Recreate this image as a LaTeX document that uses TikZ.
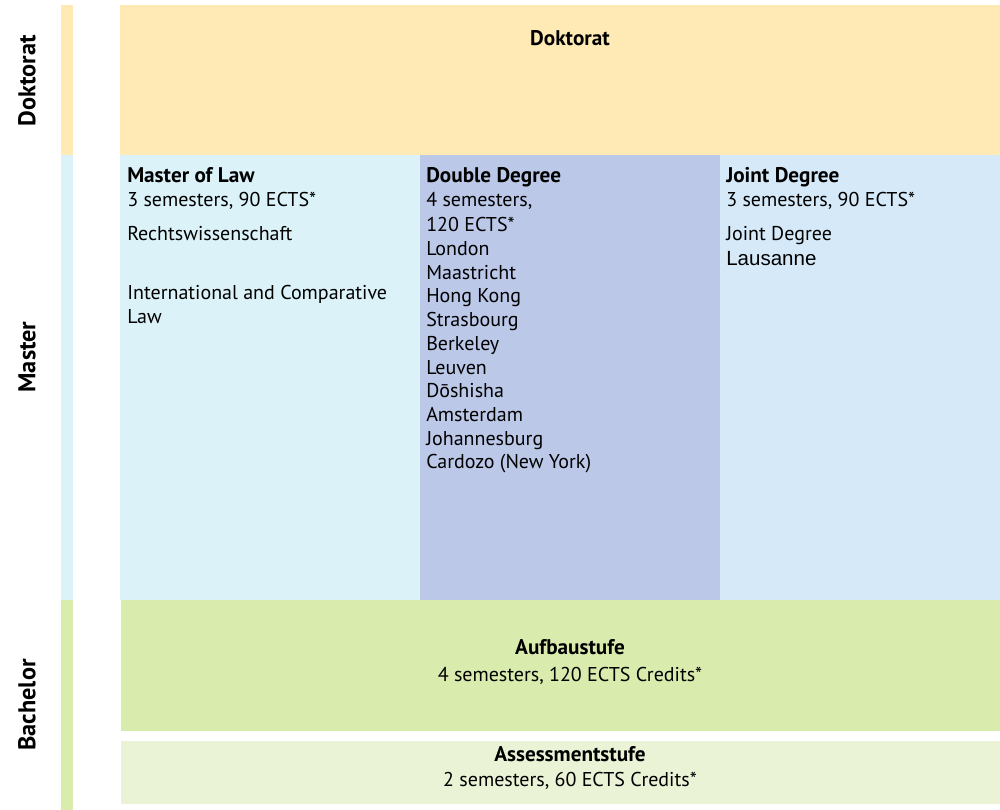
\documentclass[tikz,border=0pt]{standalone}
\usepackage{fontspec}
\setmainfont{PT Sans}
\newfontfamily\arialf{Liberation Sans}
\definecolor{doccol}{HTML}{FFE9B5}
\definecolor{mascol}{HTML}{DAF2F8}
\definecolor{ddcol}{HTML}{BBC8E8}
\definecolor{jdcol}{HTML}{D5E9F8}
\definecolor{aufcol}{HTML}{D9EBAD}
\definecolor{asscol}{HTML}{EBF3D6}
\tikzset{
  txt/.style={anchor=base west, inner sep=0pt, font=\fontsize{15}{18}\selectfont},
  hd/.style={txt, font=\fontsize{15.9}{18}\selectfont\bfseries},
  ctxt/.style={anchor=base, inner sep=0pt, font=\fontsize{15}{18}\selectfont},
  chd/.style={ctxt, font=\fontsize{15.9}{18}\selectfont\bfseries},
  side/.style={rotate=90, inner sep=0pt, font=\fontsize{18.2}{20}\selectfont\bfseries}
}
\begin{document}
\begin{tikzpicture}[x=0.75pt,y=-0.75pt]
\useasboundingbox (0,0) rectangle (1000,810);
% left bar
\fill[doccol] (61,5) rectangle (73,155);
\fill[mascol] (61,155) rectangle (73,600);
\fill[aufcol] (61,600) rectangle (73,810);
% boxes
\fill[doccol] (120,5) rectangle (1000,155);
\fill[mascol] (120,155) rectangle (420,600);
\fill[ddcol] (420,155) rectangle (720,600);
\fill[jdcol] (720,155) rectangle (1000,600);
\fill[aufcol] (121,600) rectangle (1000,731);
\fill[asscol] (121,741) rectangle (1000,804);
% side labels
\node[side] (sdok) at (27,81) {Doktorat};
\node[side] (smas) at (27,357) {Master};
\node[side] (sbac) at (27,705) {Bachelor};
% Doktorat
\node[chd] (dok) at (570,45) {Doktorat};
% Master of Law
\node[hd] (mlh) at (127,182.7) {Master of Law};
\node[txt] (ml1) at (127,206.7) {3 semesters, 90 ECTS*};
\node[txt] (ml2) at (127,240.7) {Rechtswissenschaft};
\node[txt] (ml3) at (127,299) {International and Comparative};
\node[txt] (ml4) at (127,323.3) {Law};
% Double Degree
\node[hd] (ddh) at (426,182) {Double Degree};
\node[txt] (dd1) at (426,206.7) {4 semesters,};
\node[txt] (dd2) at (426,231.5) {120 ECTS*};
\foreach \t [count=\i] in {London,Maastricht,Hong Kong,Strasbourg,Berkeley,Leuven,Dōshisha,Amsterdam,Johannesburg,{Cardozo (New York)}}
  \node[txt] (ddc\i) at (426,{231.8+23.7*\i}) {\t};
% Joint Degree
\node[hd] (jdh) at (726,182) {Joint Degree};
\node[txt] (jd1) at (726,206.7) {3 semesters, 90 ECTS*};
\node[txt] (jd2) at (726,240.7) {Joint Degree};
\node[txt, font=\arialf\fontsize{15.4}{18}\selectfont] (jd3) at (726,265) {Lausanne};
% Bachelor
\node[chd] (aufh) at (570,654.3) {Aufbaustufe};
\node[ctxt] (auf1) at (570,681) {4 semesters, 120 ECTS Credits*};
\node[chd] (assh) at (570,761.7) {Assessmentstufe};
\node[ctxt] (ass1) at (570,786.7) {2 semesters, 60 ECTS Credits*};
\end{tikzpicture}
\end{document}
